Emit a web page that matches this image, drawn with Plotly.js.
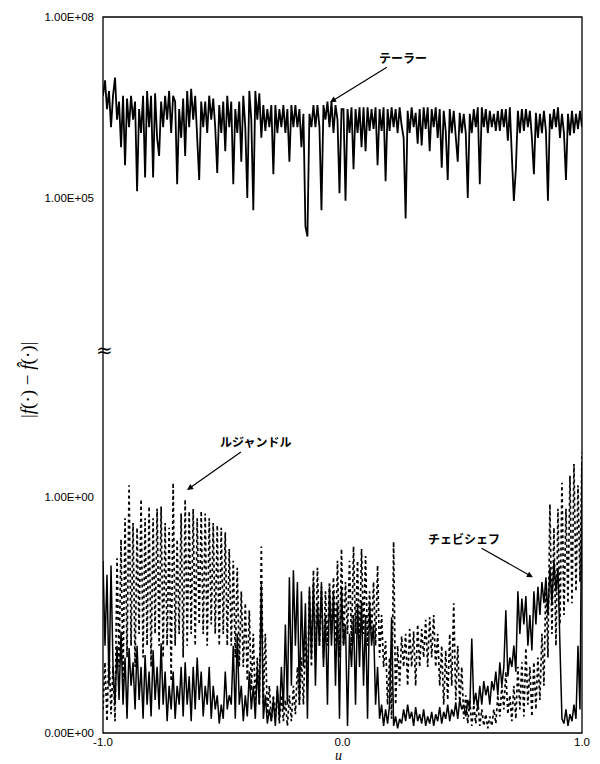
<!DOCTYPE html>
<html>
<head>
<meta charset="utf-8">
<script src="https://cdn.plot.ly/plotly-3.0.1.min.js"></script>
<style>html,body{margin:0;padding:0;background:#fff;}#chart{width:600px;height:764px;}</style>
</head>
<body>
<div id="chart"></div>
<script>
// Taylor error (upper, log scale)
const taylor = [
5e6, 9e6, 3e6, 6e6, 1.5e6, 5e6, 1e7, 2e6, 4e6, 7e5,
5e6, 3.5e5, 4.5e6, 1.5e6, 5e6, 2e6, 4e6, 1.3e5, 3e6, 1.2e6,
5e6, 2.2e5, 6e6, 1.5e6, 5e6, 2.2e5, 5.5e6, 1e6, 5e5, 4e6,
1.5e6, 5e6, 2e6, 6e6, 1.2e6, 5e6, 4e6, 1.7e5, 3e6, 1e6,
4.5e6, 5e5, 6e6, 1.5e6, 6.5e6, 2e6, 5e6, 1.2e6, 2e5, 4e6,
1.5e6, 4e6, 1.2e6, 5e6, 2e6, 4.5e6, 1.5e6, 2.6e5, 3.5e6, 1.2e6,
4e6, 6e5, 5e6, 1.5e6, 4e6, 1.7e5, 3e6, 1.2e6, 4e6, 4e5,
5e6, 1.5e6, 1e5, 6e6, 2e6, 6.3e4, 6e6, 2e6, 5.5e6, 1e6,
3.5e6, 1.3e6, 3e6, 1.5e6, 3.5e6, 2.5e5, 3.5e6, 1.2e6, 3e6, 1.5e6,
3.5e6, 1.2e6, 3e6, 4e5, 3.5e6, 1.5e6, 3.5e6, 1.5e6, 3e6, 7e5,
2.5e6, 3.4e4, 2.3e4, 2.5e6, 1.5e6, 3.5e6, 1.5e6, 3.5e6, 1.5e6, 6.3e4,
3.5e6, 2e6, 4e6, 1.5e6, 4e6, 1.2e6, 3.5e6, 2e6, 1.2e5, 3e6,
3e6, 9e4, 3e6, 1.2e6, 3.2e6, 3e5, 3e6, 1.2e6, 3.2e6, 7e5,
3.2e6, 6e5, 3.2e6, 1.3e6, 3e6, 1.4e6, 3.2e6, 3.5e5, 3e6, 1.3e6,
3.2e6, 1.9e5, 3e6, 1.3e6, 3.2e6, 1.5e6, 3e6, 1.2e6, 3.2e6, 1.6e6,
1e6, 4.6e4, 2.8e6, 1.2e6, 3.2e6, 1.5e6, 2.6e6, 8e5, 3e6, 7.5e5,
3.2e6, 1.4e6, 3.2e6, 6e5, 3e6, 1.5e6, 3.2e6, 1e6, 3e6, 3.2e5,
2.8e6, 1.3e6, 2e5, 3e6, 1.2e6, 2.8e6, 1e6, 4e5, 2.6e6, 1.2e6,
2.5e6, 1.2e6, 1e5, 2.5e6, 1.2e6, 3e6, 1.5e6, 3.2e6, 1.7e5, 3.2e6,
1.5e6, 3e6, 1.2e6, 2.8e6, 1.5e6, 2.5e6, 1.3e6, 2.8e6, 1.3e6, 3e6,
1.5e6, 3e6, 9e5, 3.2e6, 5e5, 9e4, 3e5, 2.8e6, 1.2e6, 3e6,
1.3e6, 3e6, 1.5e6, 2.8e6, 1e6, 2.5e5, 2.6e6, 1e6, 2.5e6, 1.2e6,
2.8e6, 1.3e6, 9e4, 2.5e6, 1.4e6, 3e6, 1.5e6, 3.2e6, 1e6, 2.5e6,
1.2e6, 2e5, 2.5e6, 1.1e6, 2.8e6, 1.2e6, 2.5e6, 1.4e6, 2.8e6, 1.5e6
];
// Legendre error (lower, linear, dotted)
const legendre = [
0.1, 0.3, 0.05, 0.35, 0.08, 0.28, 0.05, 0.74, 0.28, 0.82,
0.22, 0.91, 0.32, 1.05, 0.37, 0.89, 0.28, 0.87, 0.42, 0.99,
0.32, 0.91, 0.37, 0.96, 0.28, 0.91, 0.42, 0.95, 0.37, 0.96,
0.32, 0.89, 0.37, 0.87, 0.22, 1.06, 0.37, 0.82, 0.42, 0.93,
0.32, 0.99, 0.37, 0.94, 0.42, 0.95, 0.37, 0.91, 0.46, 0.94,
0.42, 0.93, 0.37, 0.91, 0.46, 0.89, 0.42, 0.88, 0.37, 0.87,
0.42, 0.85, 0.37, 0.78, 0.37, 0.73, 0.32, 0.70, 0.28, 0.6,
0.28, 0.55, 0.22, 0.52, 0.18, 0.42, 0.12, 0.32, 0.12, 0.79,
0.12, 0.42, 0.08, 0.2, 0.05, 0.16, 0.06, 0.18, 0.04, 0.16,
0.05, 0.14, 0.03, 0.16, 0.05, 0.2, 0.08, 0.28, 0.12, 0.32,
0.12, 0.42, 0.2, 0.6, 0.28, 0.69, 0.32, 0.7, 0.37, 0.62,
0.32, 0.6, 0.37, 0.64, 0.42, 0.66, 0.37, 0.73, 0.32, 0.78,
0.37, 0.64, 0.42, 0.73, 0.37, 0.79, 0.42, 0.73, 0.37, 0.78,
0.42, 0.75, 0.37, 0.6, 0.42, 0.64, 0.37, 0.71, 0.32, 0.5,
0.28, 0.39, 0.12, 0.32, 0.06, 0.81, 0.12, 0.37, 0.2, 0.41,
0.28, 0.42, 0.2, 0.44, 0.28, 0.43, 0.2, 0.46, 0.28, 0.44,
0.32, 0.48, 0.28, 0.49, 0.32, 0.5, 0.28, 0.42, 0.2, 0.37,
0.12, 0.35, 0.14, 0.42, 0.2, 0.55, 0.14, 0.37, 0.12, 0.28,
0.06, 0.16, 0.04, 0.14, 0.03, 0.12, 0.04, 0.14, 0.03, 0.1,
0.03, 0.08, 0.02, 0.07, 0.03, 0.1, 0.04, 0.16, 0.07, 0.2,
0.1, 0.26, 0.08, 0.16, 0.05, 0.2, 0.06, 0.28, 0.1, 0.3,
0.07, 0.36, 0.12, 0.28, 0.07, 0.3, 0.1, 0.32, 0.14, 0.42,
0.2, 0.64, 0.32, 0.97, 0.42, 0.87, 0.37, 0.95, 0.46, 1.06,
0.5, 0.95, 0.55, 1.09, 0.55, 1.14, 0.6, 1.05, 0.64, 1.19
];
// Chebyshev error (lower, linear, solid)
const chebyshev = [
0.73, 0.37, 0.67, 0.2, 0.71, 0.28, 0.12, 0.37, 0.14, 0.43,
0.12, 0.32, 0.06, 0.36, 0.2, 0.3, 0.1, 0.37, 0.14, 0.28,
0.06, 0.33, 0.12, 0.26, 0.07, 0.35, 0.14, 0.28, 0.1, 0.38,
0.12, 0.26, 0.05, 0.2, 0.1, 0.26, 0.06, 0.2, 0.12, 0.28,
0.07, 0.3, 0.12, 0.24, 0.05, 0.28, 0.1, 0.32, 0.14, 0.26,
0.07, 0.2, 0.12, 0.28, 0.06, 0.2, 0.1, 0.16, 0.04, 0.12,
0.06, 0.26, 0.1, 0.16, 0.12, 0.37, 0.06, 0.42, 0.12, 0.2,
0.05, 0.16, 0.07, 0.26, 0.1, 0.2, 0.06, 0.28, 0.12, 0.63,
0.06, 0.16, 0.04, 0.1, 0.05, 0.14, 0.03, 0.2, 0.06, 0.28,
0.1, 0.46, 0.12, 0.66, 0.2, 0.69, 0.37, 0.64, 0.12, 0.6,
0.28, 0.55, 0.06, 0.62, 0.32, 0.64, 0.2, 0.55, 0.37, 0.64,
0.28, 0.5, 0.12, 0.62, 0.37, 0.6, 0.2, 0.55, 0.06, 0.62,
0.37, 0.46, 0.03, 0.42, 0.28, 0.5, 0.12, 0.55, 0.28, 0.56,
0.2, 0.5, 0.06, 0.55, 0.37, 0.46, 0.12, 0.28, 0.06, 0.12,
0.03, 0.1, 0.04, 0.12, 0.49, 0.03, 0.07, 0.02, 0.06, 0.04,
0.1, 0.05, 0.12, 0.06, 0.09, 0.03, 0.11, 0.05, 0.08, 0.04,
0.1, 0.03, 0.07, 0.04, 0.09, 0.03, 0.08, 0.05, 0.11, 0.04,
0.09, 0.06, 0.12, 0.05, 0.1, 0.07, 0.13, 0.06, 0.14, 0.1,
0.12, 0.07, 0.14, 0.1, 0.4, 0.12, 0.17, 0.1, 0.2, 0.12,
0.22, 0.16, 0.2, 0.12, 0.22, 0.18, 0.26, 0.16, 0.3, 0.2,
0.28, 0.52, 0.24, 0.32, 0.28, 0.37, 0.26, 0.6, 0.42, 0.57,
0.46, 0.58, 0.37, 0.5, 0.35, 0.6, 0.46, 0.62, 0.5, 0.64,
0.55, 0.66, 0.5, 0.7, 0.55, 0.73, 0.6, 0.7, 0.37, 0.06,
0.04, 0.1, 0.03, 0.08, 0.05, 0.12, 0.06, 0.37, 0.1, 1.15
];
// sample grid of u on [-1, 1]
const uGrid = Array.from({length: taylor.length}, (_, i) => -1 + 2 * i / (taylor.length - 1));

const xTickVals = [-1, 0, 1];
const xTickText = ['-1.0', '0.0', '1.0'];
const lowTickVals = [0, 1];
const lowTickText = ['0.00E+00', '1.00E+00'];
const highTickVals = [1e5, 1e8];
const highTickText = ['1.00E+05', '1.00E+08'];
const seriesNames = ['テーラー', 'ルジャンドル', 'チェビシェフ'];

const traces = [
  {x: uGrid, y: taylor, yaxis: 'y2', mode: 'lines', name: seriesNames[0],
   line: {color: '#000', width: 1.8}},
  {x: uGrid, y: legendre, yaxis: 'y', mode: 'lines', name: seriesNames[1],
   line: {color: '#000', width: 1.7, dash: 'dot'}},
  {x: uGrid, y: chebyshev, yaxis: 'y', mode: 'lines', name: seriesNames[2],
   line: {color: '#000', width: 1.5}}
];

const tickFont = {family: 'Liberation Sans, Arial, sans-serif', size: 11.5, color: '#000'};
const jpFont = {family: 'Noto Sans CJK JP', size: 12, color: '#000', weight: 700};
const BREAK = 0.535;

const layout = {
  width: 600, height: 764,
  margin: {l: 103, r: 18, t: 17, b: 31},
  paper_bgcolor: '#fff', plot_bgcolor: '#fff',
  showlegend: false,
  xaxis: {range: [-1, 1], tickvals: xTickVals, ticktext: xTickText, ticks: '',
          showgrid: false, zeroline: false, showline: false,
          tickfont: {family: 'Liberation Sans, Arial, sans-serif', size: 11.5, color: '#000'},
          ticklabelstandoff: 0},
  yaxis: {domain: [0, BREAK], range: [0, 1.623], tickvals: lowTickVals, ticktext: lowTickText,
          ticks: '', showgrid: false, zeroline: false, showline: false, tickfont: tickFont,
          ticklabelstandoff: 8},
  yaxis2: {domain: [BREAK, 1], type: 'log', range: [2.48, 8.005], tickvals: highTickVals, ticktext: highTickText,
           ticks: '', showgrid: false, zeroline: false, showline: false, tickfont: tickFont,
           ticklabelstandoff: 8, anchor: 'x'},
  shapes: [
    {type: 'rect', xref: 'paper', yref: 'paper', x0: 0, x1: 1, y0: 0, y1: 1,
     line: {color: '#000', width: 1.3}, fillcolor: 'rgba(0,0,0,0)'}
  ],
  annotations: [
    {xref: 'x', yref: 'y2', x: -0.052, y: 6.59, text: seriesNames[0], showarrow: true,
     ax: 73, ay: -45, arrowhead: 2, arrowsize: 1, arrowwidth: 1.2, arrowcolor: '#000', font: jpFont},
    {xref: 'x', yref: 'y', x: -0.649, y: 1.03, text: seriesNames[1], showarrow: true,
     ax: 68, ay: -48, arrowhead: 2, arrowsize: 1, arrowwidth: 1.2, arrowcolor: '#000', font: jpFont},
    {xref: 'x', yref: 'y', x: 0.795, y: 0.66, text: seriesNames[2], showarrow: true,
     ax: -69, ay: -39, arrowhead: 2, arrowsize: 1, arrowwidth: 1.2, arrowcolor: '#000', font: jpFont},
    {xref: 'paper', yref: 'paper', x: 0, y: BREAK, text: '≈', showarrow: false,
     xanchor: 'center', yanchor: 'middle', xshift: 1,
     font: {family: 'DejaVu Serif, serif', size: 20, color: '#000'}},
    {xref: 'paper', yref: 'paper', x: 0, y: 0.493, text: '|<i>f</i>(·) − <i>f̂</i>(·)|', showarrow: false,
     textangle: -90, xanchor: 'center', yanchor: 'middle', xshift: -75,
     font: {family: 'Liberation Serif, serif', size: 19, color: '#000'}},
    {xref: 'paper', yref: 'paper', x: 0.5, y: 0, text: '<i>u</i>', showarrow: false,
     xanchor: 'center', yanchor: 'bottom', yshift: -31, xshift: -4, borderpad: 0,
     font: {family: 'Liberation Serif, serif', size: 14, color: '#000'}}
  ]
};

Plotly.newPlot('chart', traces, layout, {staticPlot: true, displayModeBar: false});
</script>
</body>
</html>
